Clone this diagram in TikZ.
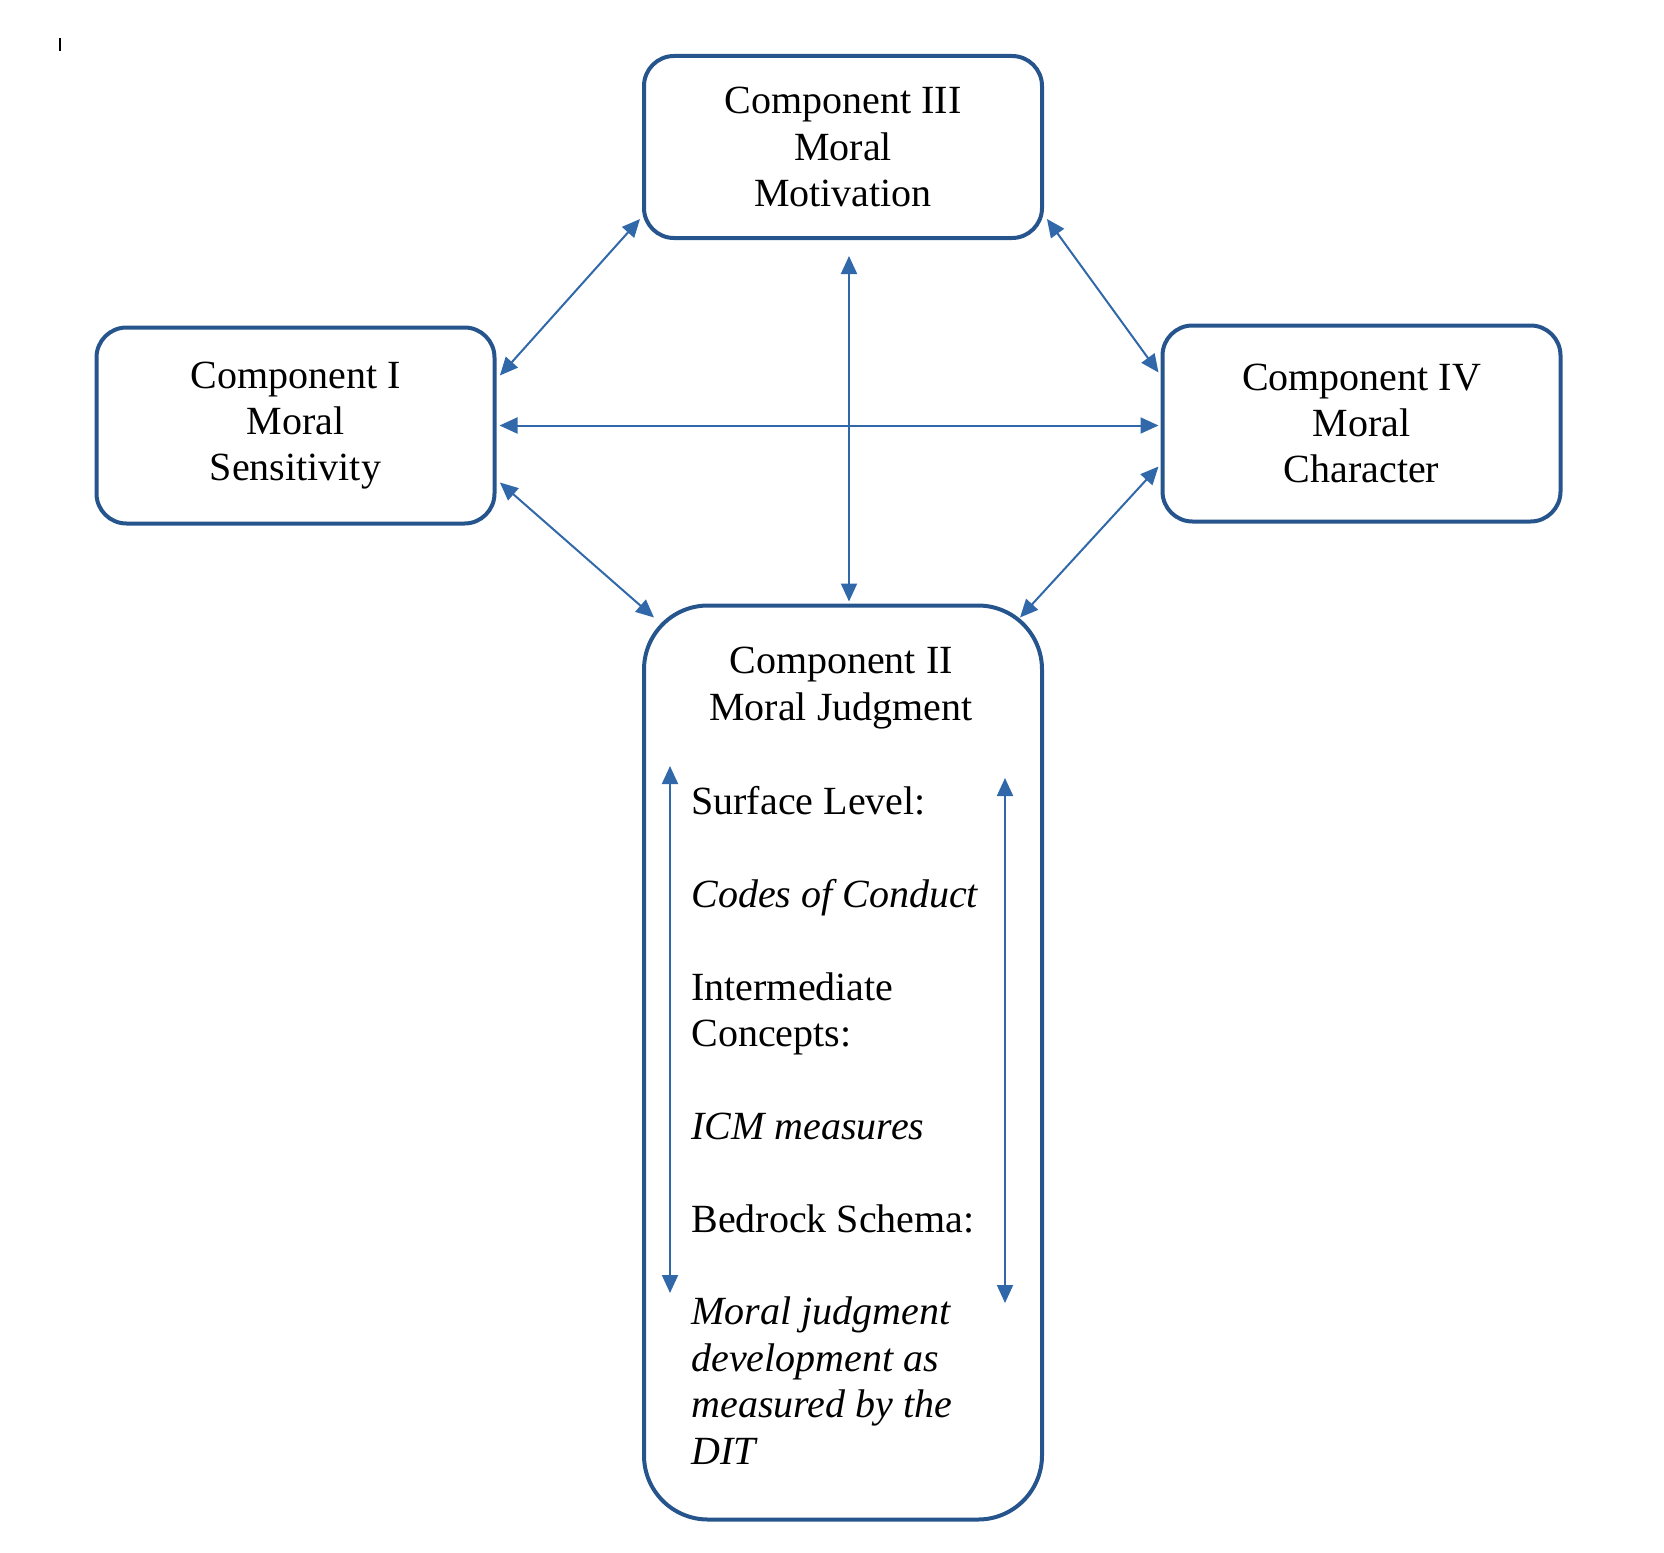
\documentclass[tikz,border=0pt]{standalone}
\usepackage{fontspec}
\setmainfont{Liberation Serif}
\usetikzlibrary{arrows.meta,calc}
\definecolor{boxblue}{RGB}{38,84,140}
\definecolor{linkblue}{RGB}{48,104,170}

\begin{document}
\begin{tikzpicture}[x=0.5pt,y=-0.5pt,
	every node/.style={font=\fontsize{20}{23.2}\selectfont},
	compbox/.style={draw=boxblue, line width=2pt, rounded corners=15pt, minimum width=199pt, align=center, inner sep=0pt},
	link/.style={linkblue, line width=1pt, {Triangle[length=9pt,width=8pt]}-{Triangle[length=9pt,width=8pt]}}]
	\useasboundingbox (0,0) rectangle (1664,1552);
	\draw[line width=1.2pt] (60,38) -- (60,51);
	\node[compbox, minimum height=91pt] (mot) at (843,147) {Component III\\Moral\\Motivation};
	\node[compbox, minimum height=98pt] (sens) at (295.5,425.5) {Component I\\Moral\\Sensitivity};
	\node[compbox, minimum height=98pt] (char) at (1361.5,423.5) {Component IV\\Moral\\Character};
	\node[compbox, minimum height=457pt, rounded corners=32pt] (judg) at (843,1062.5) {};
	\node[align=center] (judgtitle) at (841,688) {Component II\\Moral Judgment};
	\node[anchor=north west, align=left, inner sep=0pt] (levels) at (691,786) {Surface Level:\\[\baselineskip]
		\textit{Codes of Conduct}\\[\baselineskip]
		Intermediate\\Concepts:\\[\baselineskip]
		\textit{ICM measures}\\[\baselineskip]
		Bedrock Schema:\\[\baselineskip]
		\textit{Moral judgment}\\\textit{development as}\\\textit{measured by the}\\\textit{DIT}};
	\draw[link] ($(mot.south west)+(-1pt,10.5pt)$) -- ($(sens.north east)+(1.7pt,-25pt)$);
	\draw[link] ($(mot.south east)+(1.5pt,10.5pt)$) -- ($(char.north west)+(-1pt,-24.5pt)$);
	\draw[link] ($(sens.east)+(1.5pt,0)$) -- ($(sens.east -| char.west)+(-1pt,0)$);
	\draw[link] ($(mot.south)+(3pt,-8pt)$) -- ($(judg.north)+(3pt,1pt)$);
	\draw[link] ($(sens.south east)+(1.7pt,21.5pt)$) -- ($(judg.north west)+(6pt,-7pt)$);
	\draw[link] ($(char.south west)+(-1pt,28.5pt)$) -- ($(judg.north east)+(-12pt,-7pt)$);
	\coordinate (ltop) at (670,766);
	\coordinate (lbot) at (670,1293);
	\coordinate (rtop) at (1005,778);
	\coordinate (rbot) at (1005,1303);
	\draw[link] (ltop) -- (lbot);
	\draw[link] (rtop) -- (rbot);
\end{tikzpicture}
\end{document}
